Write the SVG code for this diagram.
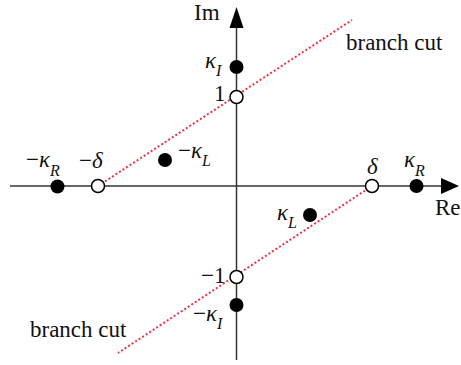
<svg xmlns="http://www.w3.org/2000/svg" width="461" height="365" viewBox="0 0 461 365">
<style>
.ax{stroke:#333;stroke-width:1.5;fill:none}
.cut{stroke:#e8344a;stroke-width:2;stroke-dasharray:2 2.2;fill:none}
.t{font-family:'Liberation Serif','Times New Roman',serif;font-size:23px;fill:#111}
.g{font-style:italic}
.s{font-size:16px;font-style:italic}
.f{fill:#000}
.o{fill:#fff;stroke:#000;stroke-width:1.5}
</style>
<rect width="461" height="365" fill="#fff"/>
<g id="connectors">
<line class="ax" x1="10" y1="186" x2="442" y2="186"/>
<polygon points="441,178 459,186 441,194" fill="#000"/>
<line class="ax" x1="236.5" y1="360" x2="236.5" y2="27"/>
<polygon points="229.5,28 236.5,7 243.5,28" fill="#000"/>
<line class="cut" x1="98" y1="186" x2="352" y2="20"/>
<line class="cut" x1="372" y1="186" x2="118" y2="353"/>
</g>
<g id="labels">
<text class="t" x="194" y="20">Im</text>
<text class="t" x="435" y="215">Re</text>
<text class="t" x="346" y="50">branch cut</text>
<text class="t" x="30" y="337">branch cut</text>
</g>
<g id="kappaI"><circle class="f" cx="236.5" cy="67" r="7"/><text class="t" x="205" y="68"><tspan class="g">κ</tspan><tspan class="s" dy="8">I</tspan></text></g>
<g id="one"><circle class="o" cx="236.5" cy="97" r="6.5"/><text class="t" x="214" y="101">1</text></g>
<g id="minusone"><circle class="o" cx="236.5" cy="277" r="6.5"/><text class="t" x="201" y="283">−1</text></g>
<g id="minuskappaI"><circle class="f" cx="236.5" cy="305" r="7"/><text class="t" x="193" y="321">−<tspan class="g">κ</tspan><tspan class="s" dy="8">I</tspan></text></g>
<g id="minuskappaR"><circle class="f" cx="57.5" cy="186.5" r="7"/><text class="t" x="26" y="167">−<tspan class="g">κ</tspan><tspan class="s" dy="9">R</tspan></text></g>
<g id="minusdelta"><circle class="o" cx="98" cy="186" r="6.5"/><text class="t" x="79" y="168">−<tspan class="g">δ</tspan></text></g>
<g id="minuskappaL"><circle class="f" cx="165" cy="160" r="7"/><text class="t" x="178" y="158">−<tspan class="g">κ</tspan><tspan class="s" dy="8">L</tspan></text></g>
<g id="delta"><circle class="o" cx="372" cy="186" r="6.5"/><text class="t g" x="367" y="174">δ</text></g>
<g id="kappaR"><circle class="f" cx="416.5" cy="186" r="7"/><text class="t" x="404" y="167"><tspan class="g">κ</tspan><tspan class="s" dy="9">R</tspan></text></g>
<g id="kappaL"><circle class="f" cx="310" cy="215" r="7"/><text class="t" x="277" y="220"><tspan class="g">κ</tspan><tspan class="s" dy="8">L</tspan></text></g>
</svg>
